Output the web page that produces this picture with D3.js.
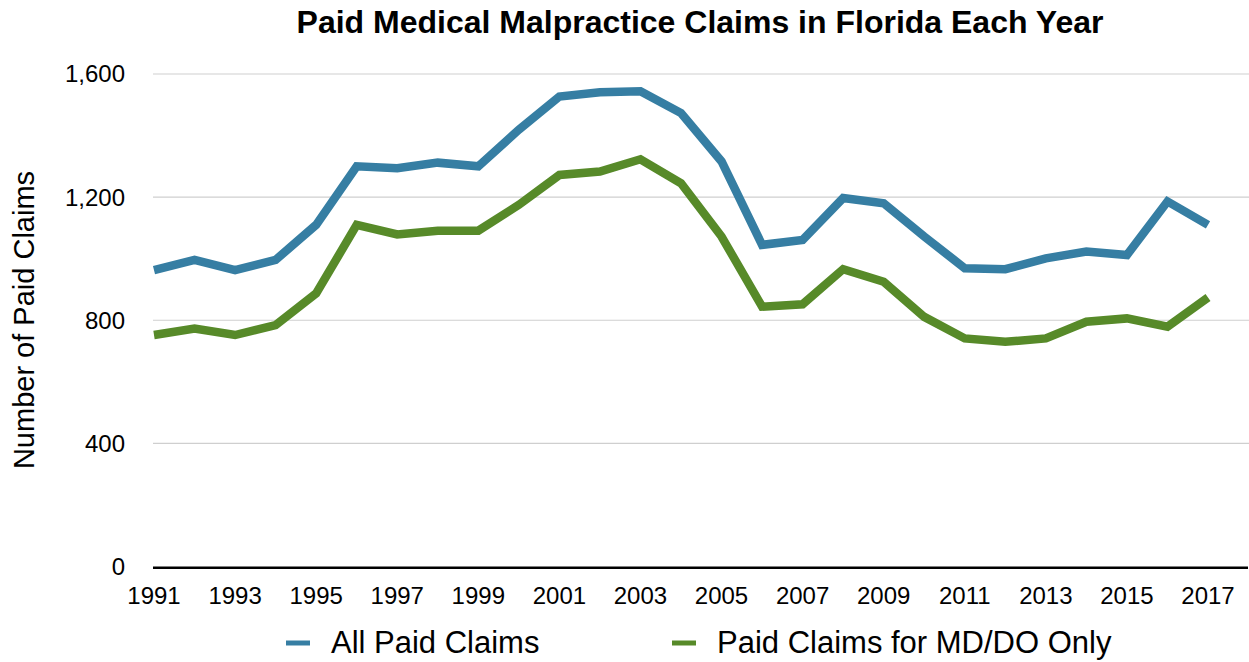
<!DOCTYPE html>
<html>
<head>
<meta charset="utf-8">
<script src="https://cdn.jsdelivr.net/npm/d3@7"></script>
<style>
  body { margin: 0; background: #fff; }
  text { font-family: "Liberation Sans", Arial, sans-serif; }
</style>
</head>
<body>
<div class="chart"></div>
<script>
const years = d3.range(1991, 2018);
const allPaid = [963, 996, 963, 996, 1110, 1300, 1294, 1312, 1300, 1419, 1527, 1541, 1544, 1473, 1316,
                 1045, 1061, 1197, 1180, 1072, 969, 966, 1001, 1023, 1012, 1186, 1110];
const mdDoOnly = [752, 773, 752, 784, 887, 1110, 1079, 1091, 1091, 1175, 1272, 1283, 1323, 1245, 1072,
                  844, 852, 966, 925, 811, 741, 730, 741, 795, 806, 779, 874];
const yTicks = [0, 400, 800, 1200, 1600];
const xTickYears = years.filter(y => (y - 1991) % 2 === 0);
const seriesNames = ["All Paid Claims", "Paid Claims for MD/DO Only"];
const seriesColors = ["#367ea3", "#578a29"];

const width = 1249;
const height = 662;

const x = d3.scalePoint()
    .domain(years)
    .range([154, 1208]);

const y = d3.scaleLinear()
    .domain([0, 1600])
    .range([566.5, 74]);

const svg = d3.select('.chart').append("svg")
    .attr("width", width)
    .attr("height", height);

// gridlines
svg.append("g")
    .selectAll("line")
    .data(yTicks.filter(d => d > 0))
    .join("line")
    .attr("x1", 153)
    .attr("x2", 1249)
    .attr("y1", d => y(d))
    .attr("y2", d => y(d))
    .attr("stroke", "#cfcfcf")
    .attr("stroke-width", 1.2);

// y tick labels
svg.append("g")
    .selectAll("text")
    .data(yTicks)
    .join("text")
    .attr("x", 125)
    .attr("y", d => y(d))
    .attr("dy", "0.35em")
    .attr("text-anchor", "end")
    .attr("font-size", 24)
    .attr("fill", "#000")
    .text(d => d3.format(",")(d));

// lines
const line = d3.line()
    .x((d, i) => x(years[i]))
    .y(d => y(d));

[allPaid, mdDoOnly].forEach((data, k) => {
    svg.append("path")
        .datum(data)
        .attr("fill", "none")
        .attr("stroke", seriesColors[k])
        .attr("stroke-width", 8.5)
        .attr("stroke-linejoin", "miter")
        .attr("d", line);
});

// x axis line
svg.append("line")
    .attr("x1", 153)
    .attr("x2", 1248)
    .attr("y1", y(0) + 1.3)
    .attr("y2", y(0) + 1.3)
    .attr("stroke", "#000")
    .attr("stroke-width", 2.6);

// x tick labels
svg.append("g")
    .selectAll("text")
    .data(xTickYears)
    .join("text")
    .attr("x", d => x(d))
    .attr("y", 604)
    .attr("text-anchor", "middle")
    .attr("font-size", 24)
    .attr("fill", "#000")
    .text(d => d);

// title
svg.append("text")
    .attr("x", 700)
    .attr("y", 33)
    .attr("text-anchor", "middle")
    .attr("font-size", 32)
    .attr("font-weight", "bold")
    .text("Paid Medical Malpractice Claims in Florida Each Year");

// y axis title
svg.append("text")
    .attr("transform", "translate(34,320) rotate(-90)")
    .attr("text-anchor", "middle")
    .attr("font-size", 29)
    .text("Number of Paid Claims");

// legend
const legendX = [286, 672];
seriesNames.forEach((name, k) => {
    svg.append("line")
        .attr("x1", legendX[k])
        .attr("x2", legendX[k] + 24)
        .attr("y1", 643)
        .attr("y2", 643)
        .attr("stroke", seriesColors[k])
        .attr("stroke-width", 5);
    svg.append("text")
        .attr("x", legendX[k] + 45)
        .attr("y", 653)
        .attr("font-size", 31)
        .text(name);
});
</script>
</body>
</html>
